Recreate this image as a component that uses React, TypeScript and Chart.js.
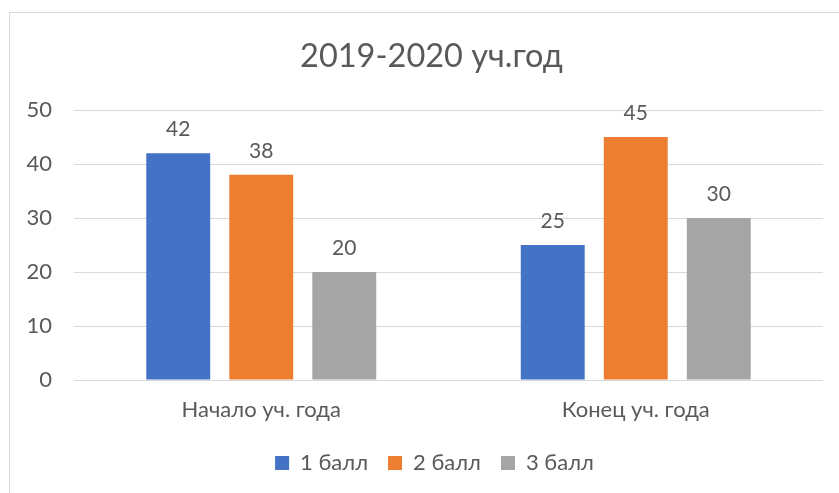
import React, { useEffect, useRef } from "react";
import { Chart, registerables } from "chart.js";

Chart.register(...registerables);

const categories = ["Начало уч. года", "Конец уч. года"];
const seriesNames = ["1 балл", "2 балл", "3 балл"];
const series1 = [42, 25];
const series2 = [38, 45];
const series3 = [20, 30];
const colors = ["#4472C4", "#ED7D31", "#A5A5A5"];
const yTicks = [0, 10, 20, 30, 40, 50];
const titleText = "2019-2020 уч.год";

const FONT = "Lato, 'Open Sans', 'Noto Sans', sans-serif";
const TEXT = "#595959";
const GRID = "#D9D9D9";

const framePlugin = {
  id: "frame",
  beforeDraw(chart: any) {
    const ctx = chart.ctx;
    ctx.save();
    ctx.fillStyle = "#ffffff";
    ctx.fillRect(0, 0, chart.width, chart.height);
    ctx.strokeStyle = GRID;
    ctx.lineWidth = 1;
    ctx.strokeRect(9.5, 12.5, chart.width + 20, chart.height + 20);
    ctx.restore();
  },
};

// shift title and legend to be centred like the original (which centres them on the frame)
const centerPlugin = {
  id: "centerShift",
  afterLayout(chart: any) {
    const lg = chart.legend;
    if (lg) {
      lg.left += 13;
      lg.right += 13;
    }
    const tb = chart.titleBlock;
    if (tb) {
      tb.left += 10;
      tb.right += 10;
    }
  },
};

const labelPlugin = {
  id: "barLabels",
  afterDatasetsDraw(chart: any) {
    const ctx = chart.ctx;
    ctx.save();
    ctx.fillStyle = TEXT;
    ctx.font = `21px ${FONT}`;
    ctx.textAlign = "center";
    ctx.textBaseline = "alphabetic";
    chart.data.datasets.forEach((ds: any, i: number) => {
      const meta = chart.getDatasetMeta(i);
      meta.data.forEach((bar: any, j: number) => {
        ctx.fillText(String(ds.data[j]), bar.x, bar.y - 17);
      });
    });
    ctx.restore();
  },
};

export default function App() {
  const ref = useRef<HTMLCanvasElement>(null);
  useEffect(() => {
    if (!ref.current) return;
    const data = [series1, series2, series3];
    const chart = new Chart(ref.current, {
      type: "bar",
      data: {
        labels: categories,
        datasets: seriesNames.map((n, i) => ({
          label: n,
          data: data[i],
          backgroundColor: colors[i],
          borderWidth: 0,
          categoryPercentage: 0.665,
          barPercentage: 0.77,
        })),
      },
      options: {
        animation: false,
        responsive: false,
        maintainAspectRatio: false,
        layout: { padding: { left: 20, right: 16, top: 0, bottom: 9 } },
        plugins: {
          title: {
            display: true,
            text: titleText,
            color: TEXT,
            font: { family: FONT, size: 32.5, weight: "normal", lineHeight: 1.2 },
            padding: { top: 37, bottom: 34 },
          },
          legend: {
            position: "bottom",
            labels: {
              color: TEXT,
              font: { family: FONT, size: 22 },
              boxWidth: 14,
              boxHeight: 14,
              padding: 20,
            },
          },
          tooltip: { enabled: false },
        },
        scales: {
          x: {
            grid: { display: false },
            border: { display: false },
            ticks: { color: TEXT, font: { family: FONT, size: 22 }, padding: 9 },
            afterFit: (s: any) => {
              s.height = 52;
            },
          },
          y: {
            min: 0,
            max: 50,
            afterBuildTicks: (s: any) => {
              s.ticks = yTicks.map((v) => ({ value: v }));
            },
            grid: { color: GRID, lineWidth: 1, drawTicks: false },
            border: { display: false },
            ticks: { color: TEXT, font: { family: FONT, size: 22 }, padding: 22 },
            afterFit: (s: any) => {
              s.width = 54;
            },
          },
        },
      },
      plugins: [framePlugin, centerPlugin, labelPlugin],
    });
    return () => chart.destroy();
  }, []);
  return (
    <div style={{ position: "fixed", left: 0, top: 0, width: 839, height: 493 }}>
      <canvas ref={ref} width={839} height={493} style={{ width: 839, height: 493 }} />
    </div>
  );
}
